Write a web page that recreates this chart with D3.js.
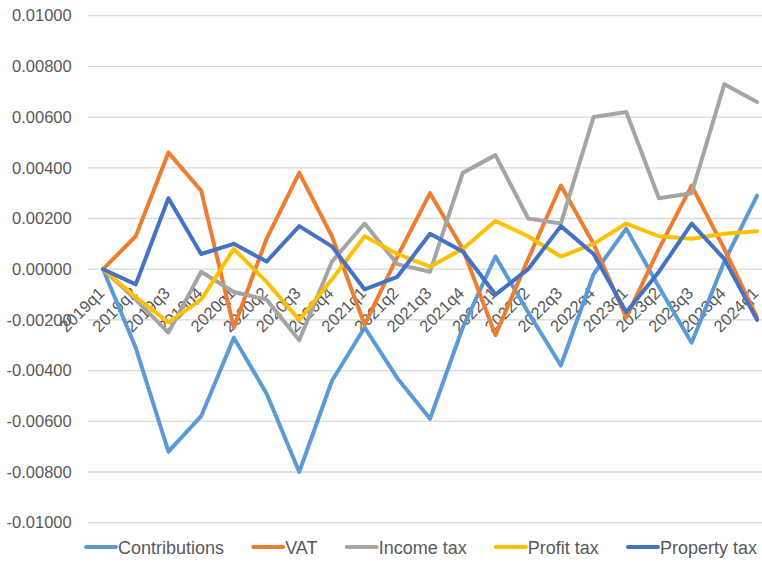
<!DOCTYPE html>
<meta charset="utf-8">
<script src="https://d3js.org/d3.v7.min.js"></script>
<style>
  body { margin: 0; background: #fff; }
  text { font-family: "Liberation Sans", Arial, sans-serif; fill: #595959; }
</style>
<body>
<div id="my_dataviz"></div>
<script>
// quarters on the x axis
const quarters = ["2019q1","2019q2","2019q3","2019q4","2020q1","2020q2","2020q3","2020q4",
  "2021q1","2021q2","2021q3","2021q4","2022q1","2022q2","2022q3","2022q4",
  "2023q1","2023q2","2023q3","2023q4","2024q1"];

// series values
const contributions = [0, -0.0031, -0.0072, -0.0058, -0.0027, -0.0049, -0.0080, -0.0044,
  -0.0023, -0.0043, -0.0059, -0.0023, 0.0005, -0.0017, -0.0038, -0.0002,
  0.0016, -0.0007, -0.0029, 0.0003, 0.0029];
const vat = [0, 0.0013, 0.0046, 0.0031, -0.0023, 0.0012, 0.0038, 0.0013,
  -0.0022, 0.0005, 0.0030, 0.0008, -0.0026, 0.0004, 0.0033, 0.0010,
  -0.0019, 0.0008, 0.0033, 0.0008, -0.0019];
const incomeTax = [0, -0.0012, -0.0025, -0.0001, -0.0009, -0.0012, -0.0028, 0.0003,
  0.0018, 0.0002, -0.0001, 0.0038, 0.0045, 0.0020, 0.0018, 0.0060,
  0.0062, 0.0028, 0.0030, 0.0073, 0.0066];
const profitTax = [0, -0.0011, -0.0021, -0.0012, 0.0008, -0.0005, -0.0020, -0.0004,
  0.0013, 0.0006, 0.0001, 0.0008, 0.0019, 0.0013, 0.0005, 0.0010,
  0.0018, 0.0013, 0.0012, 0.0014, 0.0015];
const propertyTax = [0, -0.0006, 0.0028, 0.0006, 0.0010, 0.0003, 0.0017, 0.0009,
  -0.0008, -0.0003, 0.0014, 0.0007, -0.0010, 0.0000, 0.0017, 0.0006,
  -0.0017, -0.0001, 0.0018, 0.0004, -0.0020];

const seriesNames = ["Contributions", "VAT", "Income tax", "Profit tax", "Property tax"];
const seriesColors = ["#5B9BD5", "#ED7D31", "#A5A5A5", "#FFC000", "#4472C4"];
const yTicks = [-0.01, -0.008, -0.006, -0.004, -0.002, 0, 0.002, 0.004, 0.006, 0.008, 0.01];

const allSeries = [contributions, vat, incomeTax, profitTax, propertyTax];

const W = 762, H = 571;
const plot = {left: 86.7, right: 773.4, top: 15.7, bottom: 522.7};

const svg = d3.select("#my_dataviz")
  .append("svg")
  .attr("width", W)
  .attr("height", H);

const x = d3.scalePoint()
  .domain(quarters)
  .range([plot.left, plot.right])
  .padding(0.5);

const y = d3.scaleLinear()
  .domain([-0.01, 0.01])
  .range([plot.bottom, plot.top]);

// gridlines
svg.append("g")
  .selectAll("line")
  .data(yTicks)
  .join("line")
    .attr("x1", 88)
    .attr("x2", W)
    .attr("y1", d => y(d))
    .attr("y2", d => y(d))
    .attr("stroke", "#D9D9D9")
    .attr("stroke-width", 1.3);

// y axis labels
const yAxis = svg.append("g")
  .attr("transform", `translate(${plot.left},0)`)
  .call(d3.axisLeft(y).tickValues(yTicks).tickSize(0).tickPadding(15)
    .tickFormat(d => d.toFixed(5)));
yAxis.select(".domain").remove();
yAxis.selectAll("text")
  .style("font-size", "16.5px")
  .style("fill", "#595959");

// x axis labels, rotated
const xAxis = svg.append("g")
  .attr("transform", `translate(0,${y(0)})`)
  .call(d3.axisBottom(x).tickSize(0).tickPadding(0));
xAxis.select(".domain").remove();
xAxis.selectAll("text")
  .style("font-size", "16.5px")
  .style("fill", "#595959")
  .style("text-anchor", "end")
  .attr("dy", 0)
  .attr("y", 0)
  .attr("transform", "translate(2,25) rotate(-45)");

// lines
const line = d3.line()
  .x((d, i) => x(quarters[i]))
  .y(d => y(d));

svg.append("g")
  .selectAll("path")
  .data(allSeries)
  .join("path")
    .attr("d", d => line(d))
    .attr("fill", "none")
    .attr("stroke", (d, i) => seriesColors[i])
    .attr("stroke-width", 4)
    .attr("stroke-linejoin", "round")
    .attr("stroke-linecap", "round");

// legend, spread between x=86 and x=757
const legend = svg.append("g").attr("transform", "translate(0,547)");
const items = seriesNames.map((name, i) => {
  const g = legend.append("g");
  g.append("line")
    .attr("x1", 0).attr("x2", 30)
    .attr("y1", 0).attr("y2", 0)
    .attr("stroke", seriesColors[i])
    .attr("stroke-width", 4)
    .attr("stroke-linecap", "round");
  const t = g.append("text")
    .attr("x", 32)
    .attr("y", 6.5)
    .style("font-size", "18px")
    .text(name);
  return {g, w: 32 + t.node().getComputedTextLength()};
});
const gap = (757 - 86 - d3.sum(items, d => d.w)) / (items.length - 1);
let lx = 86;
items.forEach(it => {
  it.g.attr("transform", `translate(${lx},0)`);
  lx += it.w + gap;
});
</script>
</body>
</html>
